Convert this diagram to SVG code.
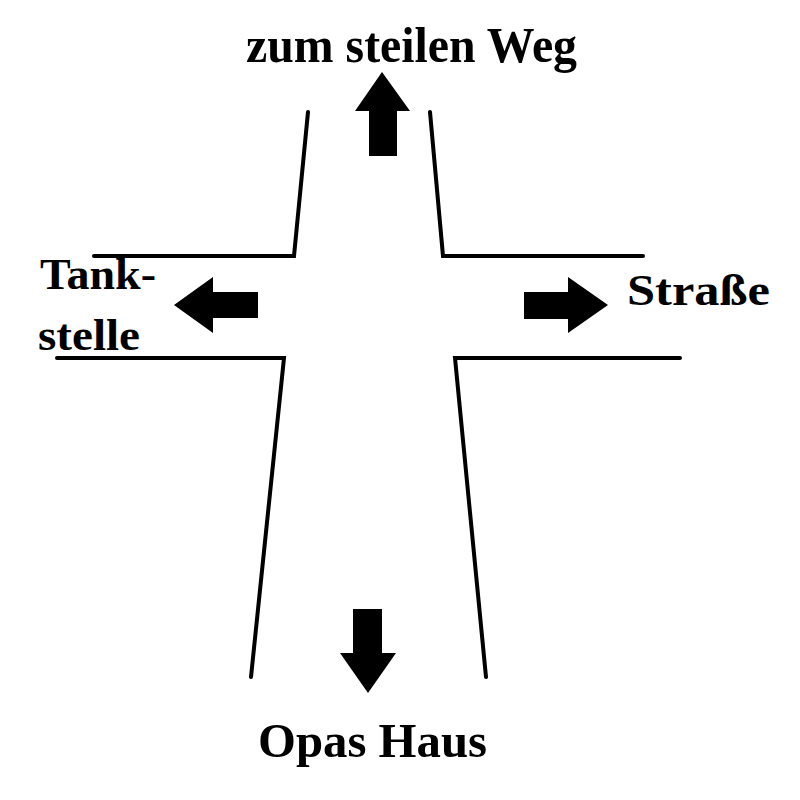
<svg xmlns="http://www.w3.org/2000/svg" width="800" height="800" viewBox="0 0 800 800">
<style>
.road{fill:none;stroke:#000;stroke-width:4;stroke-linecap:round;stroke-linejoin:miter}
.arr{fill:#000}
.lbl{font-family:"Liberation Serif","Times New Roman",serif;font-weight:bold;fill:#000}
</style>
<rect width="800" height="800" fill="#fff"/>
<g id="roads">
<polyline class="road" points="308,112 294,256 94,256"/>
<polyline class="road" points="430,112 443,256 643,256"/>
<polyline class="road" points="57,358 284,358 251,677"/>
<polyline class="road" points="680,358 455,358 486,677"/>
</g>
<g id="arrows">
<polygon class="arr" points="382,72 410,111 397,111 397,156 369,156 369,111 355,111"/>
<polygon class="arr" points="174,305 213,277 213,292 258,292 258,318 213,318 213,333"/>
<polygon class="arr" points="608,305 568,277 568,292 524,292 524,319 568,319 568,333"/>
<polygon class="arr" points="368,693 396,653 382,653 382,609 353,609 353,653 340,653"/>
</g>
<g id="labels">
<text class="lbl" x="246" y="62" font-size="50" textLength="331" lengthAdjust="spacingAndGlyphs">zum steilen Weg</text>
<text class="lbl" x="40" y="289" font-size="45" textLength="116" lengthAdjust="spacingAndGlyphs">Tank-</text>
<text class="lbl" x="38" y="350" font-size="45" textLength="102" lengthAdjust="spacingAndGlyphs">stelle</text>
<text class="lbl" x="627" y="305" font-size="45" textLength="143" lengthAdjust="spacingAndGlyphs">Straße</text>
<text class="lbl" x="258" y="757" font-size="49" textLength="229" lengthAdjust="spacingAndGlyphs">Opas Haus</text>
</g>
</svg>
